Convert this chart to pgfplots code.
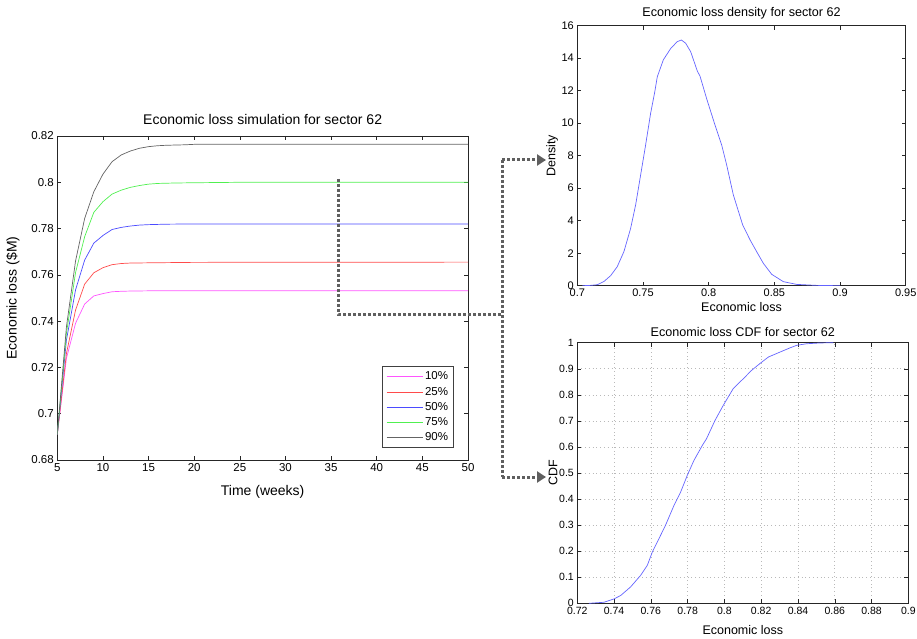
\documentclass[border=0pt]{standalone}
\usepackage{pgfplots}
\pgfplotsset{compat=1.18}
\usepackage{fontspec}
\setmainfont{Liberation Sans}
\usetikzlibrary{arrows.meta}
\definecolor{cmag}{RGB}{255,85,255}
\definecolor{cred}{RGB}{255,75,75}
\definecolor{cblue}{RGB}{75,75,255}
\definecolor{cgreen}{RGB}{80,240,80}
\definecolor{cgray}{RGB}{100,100,100}
\definecolor{cden}{RGB}{100,100,255}
\definecolor{cflow}{RGB}{95,95,95}

\pgfplotstableread{
t v
5 0.691
6 0.7239
7 0.7391
8 0.7474
9 0.7509
10 0.7519
11 0.7527
12 0.7529
13 0.7530
15 0.7531
20 0.7531
30 0.7531
50 0.7531
}\tabA
\pgfplotstableread{
t v
5 0.691
6 0.726
7 0.7448
8 0.756
9 0.7609
10 0.7631
11 0.7644
12 0.7649
13 0.7651
15 0.7652
20 0.7654
50 0.7655
}\tabB
\pgfplotstableread{
t v
5 0.691
6 0.7318
7 0.7535
8 0.7664
9 0.7737
10 0.7770
11 0.7796
12 0.7805
13 0.7811
14 0.7815
15 0.7817
17 0.7819
20 0.7820
50 0.7820
}\tabC
\pgfplotstableread{
t v
5 0.691
6 0.7347
7 0.761
8 0.7765
9 0.7870
10 0.7916
11 0.7949
12 0.7966
13 0.7978
14 0.7986
15 0.7992
16 0.7995
18 0.7997
20 0.7998
25 0.8000
50 0.8000
}\tabD
\pgfplotstableread{
t v
5 0.691
6 0.7375
7 0.7660
8 0.7844
9 0.7959
10 0.8035
11 0.8089
12 0.8118
13 0.8135
14 0.8147
15 0.8154
16 0.8158
17 0.8160
19 0.8162
20 0.8164
50 0.8164
}\tabE
\pgfplotstableread{
x d
0.7038 0
0.7100 0.02
0.7152 0.06
0.7203 0.26
0.7254 0.62
0.7304 1.17
0.7355 2.10
0.7406 3.53
0.7444 4.97
0.7482 6.81
0.7520 8.66
0.7558 10.6
0.7589 11.9
0.7609 12.86
0.7655 13.9
0.7711 14.6
0.7761 15.02
0.7792 15.12
0.7825 14.92
0.7863 14.4
0.7914 13.2
0.7934 12.9
0.7985 11.5
0.8048 9.89
0.8099 8.66
0.8137 7.43
0.8188 5.58
0.8259 3.74
0.8315 2.82
0.8365 2.10
0.8416 1.38
0.8480 0.70
0.8568 0.25
0.8670 0.08
0.8822 0.02
0.9000 0
}\tabDen
\pgfplotstableread{
x c
0.7263 0
0.7345 0.004
0.7400 0.017
0.7436 0.030
0.7490 0.063
0.7544 0.107
0.7581 0.146
0.7608 0.197
0.7635 0.235
0.7680 0.300
0.7726 0.376
0.7762 0.427
0.7798 0.491
0.7834 0.548
0.7880 0.606
0.7903 0.632
0.7949 0.702
0.7994 0.760
0.8048 0.824
0.8103 0.862
0.8148 0.894
0.8193 0.920
0.8239 0.945
0.8302 0.964
0.8356 0.980
0.8393 0.990
0.8447 0.996
0.8520 0.999
0.8592 1.000
}\tabCdf

\begin{document}
\begin{tikzpicture}
\path[use as bounding box] (0pt,0pt) rectangle (917pt,638pt);
\pgfplotsset{
  every axis/.append style={
    scale only axis,
    /pgf/number format/assume math mode=true,
    tick align=inside,
    axis line style={black!85, line width=0.7pt},
    major tick length=4pt,
    tick style={black!85, line width=0.5pt},
  },
}
% ---------------- left chart ----------------
\begin{axis}[
  at={(57.3pt,178pt)}, anchor=south west,
  width=410.7pt, height=324pt,
  xmin=5, xmax=50, ymin=0.68, ymax=0.82,
  xtick={5,10,...,50},
  ytick={0.68,0.70,0.72,0.74,0.76,0.78,0.80,0.82},
  yticklabels={0.68,0.7,0.72,0.74,0.76,0.78,0.8,0.82},
  ticklabel style={font=\fontsize{11.5}{13}\selectfont},
  title={Economic loss simulation for sector 62},
  every axis title/.style={at={(axis description cs:0.5,1.0494)}, anchor=center, font=\fontsize{14}{16}\selectfont},
  xlabel={Time (weeks)},
  every axis x label/.style={at={(axis description cs:0.5,-0.0988)}, anchor=center, font=\fontsize{14}{16}\selectfont},
  ylabel={Economic loss (\$M)},
  every axis y label/.style={at={(axis description cs:-0.1079,0.5)}, rotate=90, anchor=center, font=\fontsize{14}{16}\selectfont},
  legend style={at={(axis description cs:0.9659,0.0361)}, anchor=south east,
    draw=black!75, line width=0.9pt, font=\fontsize{11.5}{11.5}\selectfont,
    row sep=1.7pt, inner sep=3.5pt},
  legend cell align=left,
  legend image code/.code={\draw[#1, line width=0.7pt] (0pt,0pt) -- (36pt,0pt);},
]
\addplot[draw=cmag, line width=0.7pt] table[x=t,y=v] {\tabA};
\addlegendentry{10\%}
\addplot[draw=cred, line width=0.7pt] table[x=t,y=v] {\tabB};
\addlegendentry{25\%}
\addplot[draw=cblue, line width=0.7pt] table[x=t,y=v] {\tabC};
\addlegendentry{50\%}
\addplot[draw=cgreen, line width=0.7pt] table[x=t,y=v] {\tabD};
\addlegendentry{75\%}
\addplot[draw=cgray, line width=0.7pt] table[x=t,y=v] {\tabE};
\addlegendentry{90\%}
\end{axis}
% ---------------- density ----------------
\begin{axis}[
  at={(577.3pt,352.3pt)}, anchor=south west,
  width=328.4pt, height=260pt,
  xmin=0.7, xmax=0.95, ymin=0, ymax=16,
  xtick={0.70,0.75,0.80,0.85,0.90,0.95},
  xticklabels={0.7,0.75,0.8,0.85,0.9,0.95},
  ytick={0,2,...,16},
  ticklabel style={font=\fontsize{11}{12}\selectfont},
  title={Economic loss density for sector 62},
  every axis title/.style={at={(axis description cs:0.5,1.0488)}, anchor=center, font=\fontsize{12.6}{14}\selectfont},
  xlabel={Economic loss},
  every axis x label/.style={at={(axis description cs:0.5,-0.082)}, anchor=center, font=\fontsize{12.5}{14}\selectfont},
  ylabel={Density},
  every axis y label/.style={at={(axis description cs:-0.077,0.5)}, rotate=90, anchor=center, font=\fontsize{12.5}{14}\selectfont},
]
\addplot[draw=cden, line width=0.7pt] table[x=x,y=d] {\tabDen};
\end{axis}
% ---------------- CDF ----------------
\begin{axis}[
  at={(577.3pt,34.7pt)}, anchor=south west,
  width=331pt, height=260.6pt,
  xmin=0.72, xmax=0.9, ymin=0, ymax=1,
  xtick={0.72,0.74,0.76,0.78,0.80,0.82,0.84,0.86,0.88,0.90},
  xticklabels={0.72,0.74,0.76,0.78,0.8,0.82,0.84,0.86,0.88,0.9},
  ytick={0,0.1,0.2,0.3,0.4,0.5,0.6,0.7,0.8,0.9,1},
  yticklabels={0,0.1,0.2,0.3,0.4,0.5,0.6,0.7,0.8,0.9,1},
  grid=major,
  grid style={dash pattern=on 0.8pt off 3pt, gray!55, line width=0.6pt},
  ticklabel style={font=\fontsize{10.5}{12}\selectfont},
  title={Economic loss CDF for sector 62},
  every axis title/.style={at={(axis description cs:0.5,1.0422)}, anchor=center, font=\fontsize{12.6}{14}\selectfont},
  xlabel={Economic loss},
  every axis x label/.style={at={(axis description cs:0.5,-0.1025)}, anchor=center, font=\fontsize{12.5}{14}\selectfont},
  ylabel={CDF},
  every axis y label/.style={at={(axis description cs:-0.0734,0.5)}, rotate=90, anchor=center, font=\fontsize{12.5}{14}\selectfont},
]
\addplot[draw=cden, line width=0.7pt] table[x=x,y=c] {\tabCdf};
\end{axis}
% ---------------- connectors ----------------
\tikzset{flow/.style={draw=cflow, line width=3pt, dash pattern=on 3pt off 2pt}}
\draw[flow] (338pt,459pt) -- (338pt,324pt) -- (502pt,324pt);
\draw[flow] (502pt,478pt) -- (502pt,161pt);
\draw[flow, -{Triangle[width=11pt,length=9pt]}] (502pt,478pt) -- (546pt,478pt);
\draw[flow, -{Triangle[width=11pt,length=9pt]}] (502pt,161pt) -- (546pt,161pt);
\end{tikzpicture}
\end{document}
